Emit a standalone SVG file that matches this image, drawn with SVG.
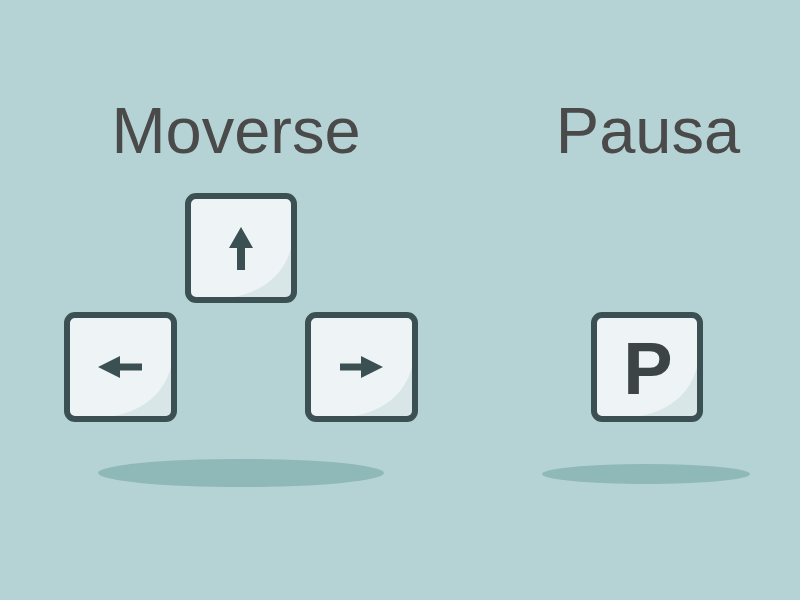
<svg xmlns="http://www.w3.org/2000/svg" width="800" height="600" viewBox="0 0 800 600">
<style>
.title{font-family:"Liberation Sans",Arial,sans-serif;font-size:65px;fill:#4a4a4a;text-anchor:middle}
.face{fill:#eef4f6}
.shade{fill:#d9e6e8}
.frame{fill:none;stroke:#3b5052;stroke-width:6}
.glyph{fill:#3b5052}
.shadow{fill:#8fb8b9}
</style>
<rect width="800" height="600" fill="#b5d3d4"/>
<text class="title" x="236" y="153">Moverse</text>
<text class="title" x="648" y="153">Pausa</text>
<ellipse class="shadow" cx="241" cy="473" rx="143" ry="14"/>
<ellipse class="shadow" cx="646" cy="474" rx="104" ry="10"/>
<g id="key-up">
<rect class="face" x="188" y="196" width="106" height="104" rx="8"/>
<path class="shade" d="M210,300 Q288,296 294,232 L294,300 Z"/>
<rect class="frame" x="188" y="196" width="106" height="104" rx="8"/>
<path class="glyph" d="M241,227 L253,248 L245,248 L245,270 L237,270 L237,248 L229,248 Z"/>
</g>
<g id="key-left">
<rect class="face" x="67" y="315" width="107" height="104" rx="8"/>
<path class="shade" d="M90,419 Q168,415 174,351 L174,419 Z"/>
<rect class="frame" x="67" y="315" width="107" height="104" rx="8"/>
<path class="glyph" d="M98,367 L120,356 L120,363.5 L142,363.5 L142,370.5 L120,370.5 L120,378 Z"/>
</g>
<g id="key-right">
<rect class="face" x="308" y="315" width="107" height="104" rx="8"/>
<path class="shade" d="M331,419 Q409,415 415,351 L415,419 Z"/>
<rect class="frame" x="308" y="315" width="107" height="104" rx="8"/>
<path class="glyph" d="M383,367 L361,356 L361,363.5 L340,363.5 L340,370.5 L361,370.5 L361,378 Z"/>
</g>
<g id="key-p">
<rect class="face" x="594" y="315" width="106" height="104" rx="8"/>
<path class="shade" d="M617,419 Q694,415 700,351 L700,419 Z"/>
<rect class="frame" x="594" y="315" width="106" height="104" rx="8"/>
<text x="648" y="394" font-family="'Liberation Sans',Arial,sans-serif" font-weight="bold" font-size="74" fill="#3d4445" text-anchor="middle">P</text>
</g>
</svg>
